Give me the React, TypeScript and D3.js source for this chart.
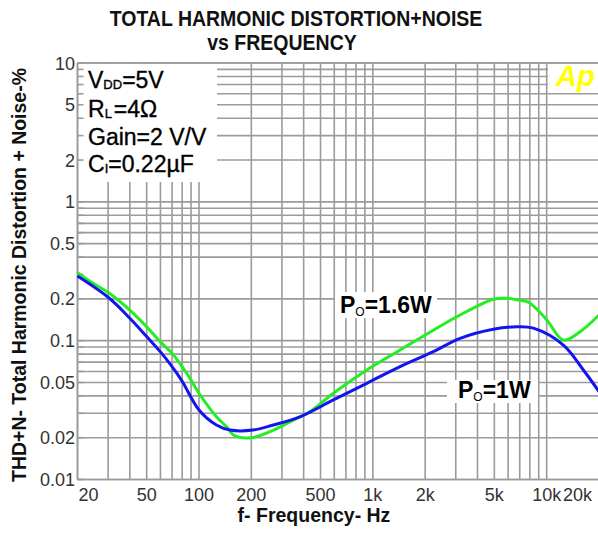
import React from 'react';
import * as d3 from 'd3';

// THD+N vs frequency, two output powers
const freq1W = [20, 30.5, 40, 50, 60, 70, 80, 100, 126, 151, 204, 268, 381, 593, 923, 1434, 2229, 3176, 4937, 6730, 8385, 12477, 16260, 20000];
const thd1W = [0.292, 0.202, 0.145, 0.107, 0.083, 0.065, 0.051, 0.0317, 0.0247, 0.0227, 0.0227, 0.0247, 0.0283, 0.0374, 0.0493, 0.065, 0.0833, 0.104, 0.121, 0.126, 0.123, 0.093, 0.0615, 0.043];

const freq16W = [20, 24.6, 30.5, 40, 50, 60, 70, 80, 90, 100, 126, 144, 161, 204, 268, 349, 435, 593, 923, 1434, 2229, 3176, 4937, 5897, 6730, 7853, 10015, 12477, 15570, 20000];
const thd16W = [0.309, 0.259, 0.2195, 0.166, 0.126, 0.098, 0.081, 0.065, 0.052, 0.0418, 0.0283, 0.024, 0.0206, 0.0201, 0.0227, 0.0268, 0.0308, 0.0418, 0.0615, 0.0857, 0.119, 0.153, 0.199, 0.202, 0.197, 0.189, 0.141, 0.101, 0.116, 0.153];

const xTickValues = [20, 50, 100, 200, 500, 1000, 2000, 5000, 10000, 20000];
const xTickLabels = ['20', '50', '100', '200', '500', '1k', '2k', '5k', '10k', '20k'];
const yTickValues = [10, 5, 2, 1, 0.5, 0.2, 0.1, 0.05, 0.02, 0.01];
const yTickLabels = ['10', '5', '2', '1', '0.5', '0.2', '0.1', '0.05', '0.02', '0.01'];

const W = 598;
const H = 533;
const FONT = '"Liberation Sans", Arial, sans-serif';

const x = d3.scaleLog().domain([20, 20000]).range([77.5, 599]);
const y = d3.scaleLog().domain([0.01, 10]).range([479.5, 63]);

// minor log grid (1..9 per decade)
const gridValues = (lo: number, hi: number) => {
  const out: number[] = [];
  for (let d = lo; d < hi * 10; d *= 10) {
    for (let m = 1; m <= 9; m++) {
      const v = +(d * m).toPrecision(3);
      if (v >= lo && v <= hi) out.push(v);
    }
  }
  return out;
};
const xGrid = gridValues(10, 20000).filter((v) => v >= 20);
const yGrid = gridValues(0.01, 10).filter((v) => v !== 0.3);

const line = d3
  .line<[number, number]>()
  .x((d) => x(d[0]))
  .y((d) => y(d[1]))
  .curve(d3.curveCatmullRom.alpha(0.5));

const GRID = '#9b9b9b';

export default function App() {
  const blue = line(freq1W.map((f, i) => [f, thd1W[i]] as [number, number]));
  const green = line(freq16W.map((f, i) => [f, thd16W[i]] as [number, number]));

  return (
    <svg
      width={W}
      height={H}
      style={{ position: 'absolute', left: 0, top: 0, background: '#fff' }}
      fontFamily={FONT}
    >
      <rect x={0} y={0} width={W} height={H} fill="#fff" />

      {/* title */}
      <g fontSize={19.5} fontWeight="bold" fill="#111" textAnchor="middle">
        <text transform="translate(296,26) scale(1,1.12)">TOTAL HARMONIC DISTORTION+NOISE</text>
        <text transform="translate(282,50) scale(1,1.12)">vs FREQUENCY</text>
      </g>

      {/* grid */}
      <g stroke={GRID} strokeWidth={1.6}>
        {xGrid.map((v) => (
          <line key={'gx' + v} x1={x(v)} x2={x(v)} y1={y(10)} y2={y(0.01)} />
        ))}
        {yGrid.map((v) => (
          <line key={'gy' + v} x1={x(20)} x2={x(20000)} y1={y(v)} y2={y(v)} />
        ))}
      </g>

      {/* boxes that hide the grid */}
      <rect x={79} y={64} width={138} height={118} fill="#fff" />
      <rect x={548} y={64} width={51} height={26} fill="#fff" />
      <rect x={335} y={292} width={102} height={26} fill="#fff" />
      <rect x={447} y={380} width={91} height={23} fill="#fff" />

      {/* frame + left ticks */}
      <g stroke={GRID} strokeWidth={1.6}>
        <line x1={x(20)} x2={x(20)} y1={y(10)} y2={y(0.01)} />
        <line x1={x(20)} x2={x(20000)} y1={y(10)} y2={y(10)} />
        <line x1={x(20)} x2={x(20000)} y1={y(0.01)} y2={y(0.01)} />
        {gridValues(0.01, 10).map((v) => (
          <line key={'t' + v} x1={x(20)} x2={x(20) + 6} y1={y(v)} y2={y(v)} />
        ))}
      </g>

      {/* curves */}
      <path d={green || ''} fill="none" stroke="#22ee22" strokeWidth={3} />
      <path d={blue || ''} fill="none" stroke="#1414ee" strokeWidth={3} />

      {/* axis labels */}
      <g fontSize={18} fill="#333">
        {yTickValues.map((v, i) => (
          <text key={'yl' + v} x={75} y={y(v) + 6.5} textAnchor="end">
            {yTickLabels[i]}
          </text>
        ))}
        {xTickValues.map((v, i) => {
          const last = i === xTickValues.length - 1;
          const first = i === 0;
          return (
            <text
              key={'xl' + v}
              x={first ? x(v) + 1 : last ? 592 : x(v)}
              y={501}
              textAnchor={first ? 'start' : last ? 'end' : 'middle'}
            >
              {xTickLabels[i]}
            </text>
          );
        })}
      </g>

      <text x={314} y={522} textAnchor="middle" fontSize={19.5} fontWeight="bold" fill="#111">
        f- Frequency- Hz
      </text>
      <text
        transform="translate(26,275) rotate(-90)"
        textAnchor="middle"
        fontSize={19.5}
        fontWeight="bold"
        fill="#111"
        textLength={414}
        lengthAdjust="spacingAndGlyphs"
      >
        THD+N- Total Harmonic Distortion + Noise-%
      </text>

      {/* conditions */}
      <g fontSize={23} fill="#000" stroke="#000" strokeWidth={0.35}>
        <text x={88} y={88}>
          V<tspan fontSize={13} dy={1}>DD</tspan>
          <tspan dy={-1}>=5V</tspan>
        </text>
        <text x={88} y={117}>
          R<tspan fontSize={13} dy={1}>L</tspan>
          <tspan dy={-1} dx={2}>=4Ω</tspan>
        </text>
        <text x={88} y={145}>Gain=2 V/V</text>
        <text x={88} y={172}>
          C<tspan fontSize={13} dy={1}>I</tspan>
          <tspan dy={-1}>=0.22µF</tspan>
        </text>
      </g>

      {/* series labels */}
      <text x={340} y={313} fontSize={23} fontWeight="bold" fill="#000">
        P<tspan fontSize={12} fontWeight="normal" dy={3}>O</tspan>
        <tspan dy={-3}>=1.6W</tspan>
      </text>
      <text x={458} y={398} fontSize={23} fontWeight="bold" fill="#000">
        P<tspan fontSize={12} fontWeight="normal" dy={3}>O</tspan>
        <tspan dy={-3}>=1W</tspan>
      </text>

      <text x={556} y={86} fontSize={29} fontWeight="bold" fontStyle="italic" fill="#ffff00">
        Ap
      </text>
    </svg>
  );
}
